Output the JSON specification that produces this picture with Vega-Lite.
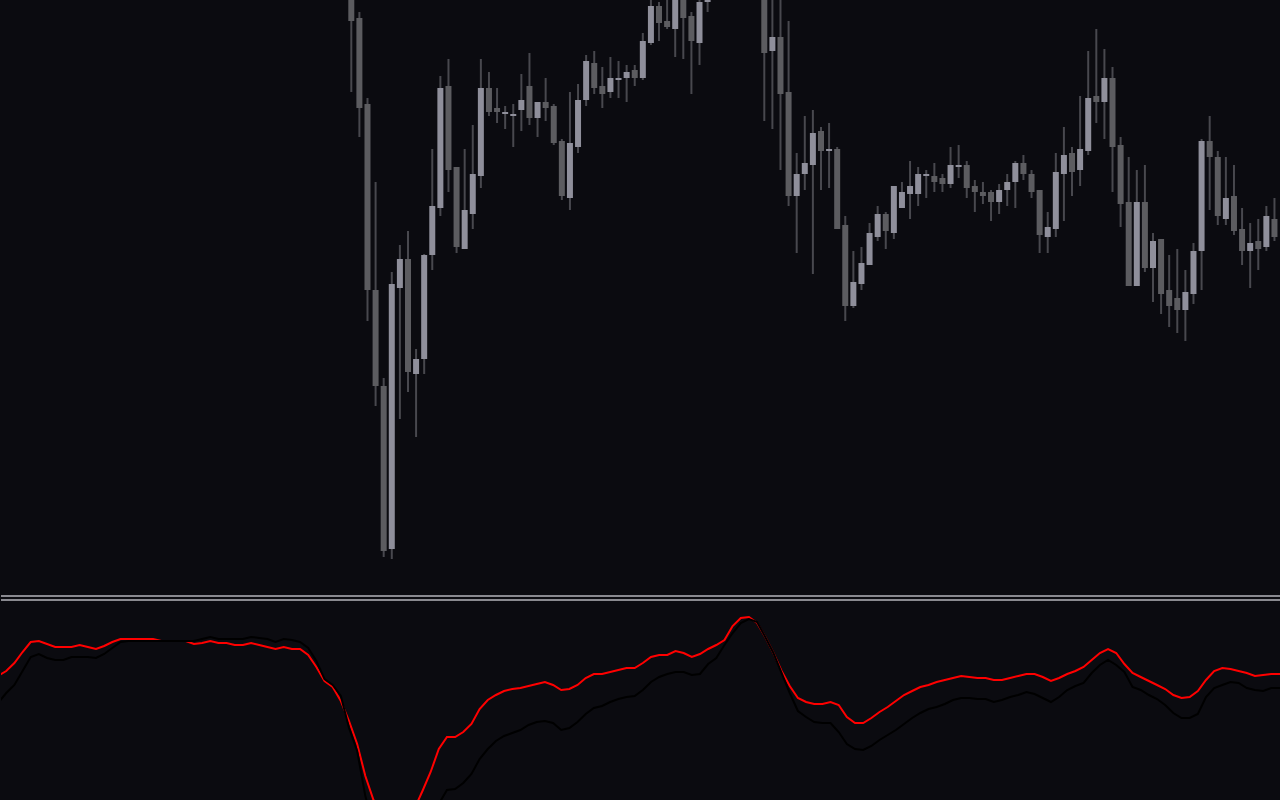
{
  "$schema": "https://vega.github.io/schema/vega-lite/v6.json",
  "background": "#0b0b10",
  "padding": 0,
  "spacing": 0,
  "config": {"view": {"stroke": null}},
  "datasets": {
    "candles": [
      {"i":0,"open":605,"high":615,"low":508,"close":579},
      {"i":1,"open":582,"high":588,"low":463,"close":492},
      {"i":2,"open":496,"high":502,"low":279,"close":310},
      {"i":3,"open":310,"high":418,"low":194,"close":214},
      {"i":4,"open":214,"high":222,"low":43,"close":49},
      {"i":5,"open":51,"high":328,"low":41,"close":316},
      {"i":6,"open":312,"high":355,"low":181,"close":341},
      {"i":7,"open":341,"high":369,"low":208,"close":228},
      {"i":8,"open":226,"high":251,"low":163,"close":241},
      {"i":9,"open":241,"high":346,"low":226,"close":345},
      {"i":10,"open":345,"high":451,"low":330,"close":394},
      {"i":11,"open":392,"high":524,"low":384,"close":512},
      {"i":12,"open":514,"high":541,"low":408,"close":430},
      {"i":13,"open":433,"high":433,"low":347,"close":353},
      {"i":14,"open":351,"high":451,"low":351,"close":390},
      {"i":15,"open":386,"high":475,"low":371,"close":426},
      {"i":16,"open":424,"high":541,"low":412,"close":512},
      {"i":17,"open":512,"high":528,"low":484,"close":488},
      {"i":18,"open":492,"high":512,"low":477,"close":488},
      {"i":19,"open":486,"high":494,"low":471,"close":488},
      {"i":20,"open":484,"high":496,"low":453,"close":486},
      {"i":21,"open":490,"high":526,"low":469,"close":500},
      {"i":22,"open":514,"high":547,"low":475,"close":482},
      {"i":23,"open":482,"high":498,"low":463,"close":498},
      {"i":24,"open":498,"high":522,"low":479,"close":492},
      {"i":25,"open":494,"high":496,"low":455,"close":457},
      {"i":26,"open":459,"high":461,"low":400,"close":404},
      {"i":27,"open":402,"high":508,"low":390,"close":457},
      {"i":28,"open":453,"high":516,"low":447,"close":500},
      {"i":29,"open":500,"high":545,"low":494,"close":539},
      {"i":30,"open":537,"high":549,"low":506,"close":512},
      {"i":31,"open":514,"high":533,"low":492,"close":506},
      {"i":32,"open":508,"high":543,"low":502,"close":522},
      {"i":33,"open":520,"high":539,"low":502,"close":522},
      {"i":34,"open":522,"high":535,"low":498,"close":528},
      {"i":35,"open":530,"high":535,"low":514,"close":522},
      {"i":36,"open":522,"high":567,"low":520,"close":559},
      {"i":37,"open":557,"high":604,"low":555,"close":594},
      {"i":38,"open":594,"high":598,"low":559,"close":577},
      {"i":39,"open":579,"high":606,"low":571,"close":573},
      {"i":40,"open":571,"high":612,"low":543,"close":605},
      {"i":41,"open":604,"high":610,"low":541,"close":582},
      {"i":42,"open":584,"high":588,"low":506,"close":559},
      {"i":43,"open":557,"high":601,"low":535,"close":598},
      {"i":44,"open":598,"high":612,"low":588,"close":606},
      {"i":45,"open":606,"high":624,"low":602,"close":618},
      {"i":46,"open":618,"high":640,"low":612,"close":632},
      {"i":47,"open":632,"high":656,"low":626,"close":648},
      {"i":48,"open":648,"high":668,"low":640,"close":660},
      {"i":49,"open":660,"high":666,"low":642,"close":650},
      {"i":50,"open":650,"high":655,"low":622,"close":630},
      {"i":51,"open":622,"high":628,"low":479,"close":547},
      {"i":52,"open":549,"high":610,"low":471,"close":563},
      {"i":53,"open":563,"high":605,"low":430,"close":506},
      {"i":54,"open":508,"high":579,"low":394,"close":404},
      {"i":55,"open":404,"high":447,"low":347,"close":426},
      {"i":56,"open":426,"high":484,"low":410,"close":437},
      {"i":57,"open":435,"high":490,"low":326,"close":467},
      {"i":58,"open":469,"high":473,"low":410,"close":449},
      {"i":59,"open":449,"high":477,"low":412,"close":451},
      {"i":60,"open":451,"high":453,"low":371,"close":371},
      {"i":61,"open":375,"high":384,"low":279,"close":294},
      {"i":62,"open":294,"high":349,"low":292,"close":318},
      {"i":63,"open":316,"high":353,"low":310,"close":337},
      {"i":64,"open":335,"high":377,"low":335,"close":367},
      {"i":65,"open":363,"high":394,"low":359,"close":386},
      {"i":66,"open":386,"high":388,"low":351,"close":369},
      {"i":67,"open":367,"high":414,"low":361,"close":414},
      {"i":68,"open":392,"high":418,"low":392,"close":408},
      {"i":69,"open":406,"high":439,"low":381,"close":414},
      {"i":70,"open":406,"high":433,"low":394,"close":426},
      {"i":71,"open":424,"high":430,"low":402,"close":426},
      {"i":72,"open":424,"high":437,"low":408,"close":418},
      {"i":73,"open":422,"high":426,"low":408,"close":416},
      {"i":74,"open":416,"high":453,"low":412,"close":435},
      {"i":75,"open":433,"high":455,"low":422,"close":435},
      {"i":76,"open":435,"high":439,"low":402,"close":412},
      {"i":77,"open":414,"high":420,"low":388,"close":408},
      {"i":78,"open":408,"high":418,"low":396,"close":404},
      {"i":79,"open":408,"high":410,"low":379,"close":398},
      {"i":80,"open":398,"high":416,"low":386,"close":410},
      {"i":81,"open":410,"high":426,"low":394,"close":418},
      {"i":82,"open":418,"high":439,"low":392,"close":437},
      {"i":83,"open":437,"high":445,"low":420,"close":426},
      {"i":84,"open":426,"high":430,"low":402,"close":408},
      {"i":85,"open":410,"high":410,"low":347,"close":365},
      {"i":86,"open":363,"high":388,"low":347,"close":373},
      {"i":87,"open":371,"high":447,"low":363,"close":428},
      {"i":88,"open":426,"high":473,"low":379,"close":445},
      {"i":89,"open":447,"high":453,"low":404,"close":428},
      {"i":90,"open":430,"high":504,"low":414,"close":451},
      {"i":91,"open":449,"high":549,"low":445,"close":502},
      {"i":92,"open":504,"high":571,"low":477,"close":498},
      {"i":93,"open":498,"high":551,"low":461,"close":522},
      {"i":94,"open":522,"high":533,"low":408,"close":453},
      {"i":95,"open":455,"high":463,"low":373,"close":396},
      {"i":96,"open":398,"high":443,"low":314,"close":314},
      {"i":97,"open":314,"high":430,"low":314,"close":398},
      {"i":98,"open":398,"high":435,"low":328,"close":332},
      {"i":99,"open":332,"high":367,"low":298,"close":359},
      {"i":100,"open":361,"high":361,"low":286,"close":306},
      {"i":101,"open":310,"high":345,"low":273,"close":294},
      {"i":102,"open":302,"high":351,"low":267,"close":290},
      {"i":103,"open":290,"high":330,"low":259,"close":308},
      {"i":104,"open":306,"high":357,"low":296,"close":349},
      {"i":105,"open":349,"high":461,"low":310,"close":459},
      {"i":106,"open":459,"high":484,"low":390,"close":443},
      {"i":107,"open":443,"high":449,"low":375,"close":384},
      {"i":108,"open":381,"high":443,"low":375,"close":402},
      {"i":109,"open":404,"high":435,"low":365,"close":369},
      {"i":110,"open":371,"high":392,"low":335,"close":349},
      {"i":111,"open":349,"high":377,"low":312,"close":357},
      {"i":112,"open":359,"high":381,"low":330,"close":351},
      {"i":113,"open":353,"high":394,"low":349,"close":384},
      {"i":114,"open":381,"high":402,"low":359,"close":363}
    ],
    "osc": [
      {"i":-43,"red":62.5,"black":49},
      {"i":-42,"red":65,"black":54},
      {"i":-41,"red":69,"black":58},
      {"i":-40,"red":74.5,"black":65},
      {"i":-39,"red":79.5,"black":72},
      {"i":-38,"red":80,"black":73.5},
      {"i":-37,"red":78.5,"black":71.5},
      {"i":-36,"red":77,"black":70.5},
      {"i":-35,"red":77,"black":70.5},
      {"i":-34,"red":77,"black":72},
      {"i":-33,"red":78,"black":72},
      {"i":-32,"red":77,"black":72},
      {"i":-31,"red":76,"black":71.5},
      {"i":-30,"red":77.5,"black":73.5},
      {"i":-29,"red":79.5,"black":76.5},
      {"i":-28,"red":81,"black":79.5},
      {"i":-27,"red":81,"black":80},
      {"i":-26,"red":81,"black":80},
      {"i":-25,"red":81,"black":80},
      {"i":-24,"red":81,"black":80},
      {"i":-23,"red":80,"black":80},
      {"i":-22,"red":80,"black":80},
      {"i":-21,"red":80,"black":80},
      {"i":-20,"red":80,"black":80},
      {"i":-19,"red":78.5,"black":80},
      {"i":-18,"red":79,"black":81},
      {"i":-17,"red":80,"black":82},
      {"i":-16,"red":79,"black":81},
      {"i":-15,"red":79,"black":81},
      {"i":-14,"red":78,"black":81},
      {"i":-13,"red":78,"black":81},
      {"i":-12,"red":79,"black":82},
      {"i":-11,"red":78,"black":81.5},
      {"i":-10,"red":77,"black":81},
      {"i":-9,"red":76,"black":79.5},
      {"i":-8,"red":77,"black":81},
      {"i":-7,"red":76,"black":80.5},
      {"i":-6,"red":76,"black":79.5},
      {"i":-5,"red":73,"black":76.5},
      {"i":-4,"red":67,"black":70},
      {"i":-3,"red":60,"black":61},
      {"i":-2,"red":57,"black":58},
      {"i":-1,"red":50,"black":52.5},
      {"i":0,"red":40,"black":36.5},
      {"i":1,"red":28.5,"black":25},
      {"i":2,"red":12.5,"black":2.5},
      {"i":3,"red":0.5,"black":-12.5},
      {"i":4,"red":-7.5,"black":-20},
      {"i":5,"red":-10,"black":-22.5},
      {"i":6,"red":-11,"black":-22.5},
      {"i":7,"red":-9,"black":-20},
      {"i":8,"red":-4,"black":-15},
      {"i":9,"red":5,"black":-10},
      {"i":10,"red":14.5,"black":-6},
      {"i":11,"red":26,"black":-1.5},
      {"i":12,"red":32,"black":5.5},
      {"i":13,"red":32,"black":6},
      {"i":14,"red":34.5,"black":9},
      {"i":15,"red":38.5,"black":13.5},
      {"i":16,"red":46,"black":21},
      {"i":17,"red":50.5,"black":26},
      {"i":18,"red":53,"black":30},
      {"i":19,"red":55,"black":32.5},
      {"i":20,"red":56,"black":34},
      {"i":21,"red":56.5,"black":35.5},
      {"i":22,"red":57.5,"black":38},
      {"i":23,"red":58.5,"black":39.5},
      {"i":24,"red":59.5,"black":40},
      {"i":25,"red":58,"black":39},
      {"i":26,"red":55.5,"black":35.5},
      {"i":27,"red":56,"black":36.5},
      {"i":28,"red":58,"black":39.5},
      {"i":29,"red":61.5,"black":43.5},
      {"i":30,"red":63.5,"black":46.5},
      {"i":31,"red":63.5,"black":47.5},
      {"i":32,"red":64.5,"black":49.5},
      {"i":33,"red":65.5,"black":51},
      {"i":34,"red":66.5,"black":52},
      {"i":35,"red":66.5,"black":52.5},
      {"i":36,"red":69,"black":55.5},
      {"i":37,"red":72,"black":59.5},
      {"i":38,"red":73,"black":62},
      {"i":39,"red":73,"black":63.5},
      {"i":40,"red":75,"black":64.5},
      {"i":41,"red":74,"black":64.5},
      {"i":42,"red":72,"black":63},
      {"i":43,"red":73.5,"black":63.5},
      {"i":44,"red":76,"black":68.5},
      {"i":45,"red":78,"black":71.5},
      {"i":46,"red":80.5,"black":78},
      {"i":47,"red":87.5,"black":84},
      {"i":48,"red":91.5,"black":89},
      {"i":49,"red":92,"black":91},
      {"i":50,"red":89,"black":89.5},
      {"i":51,"red":82,"black":82},
      {"i":52,"red":74,"black":74},
      {"i":53,"red":65,"black":64},
      {"i":54,"red":57.5,"black":54},
      {"i":55,"red":51.5,"black":45},
      {"i":56,"red":49.5,"black":42},
      {"i":57,"red":48.5,"black":39.5},
      {"i":58,"red":48.5,"black":39},
      {"i":59,"red":49.5,"black":39},
      {"i":60,"red":48,"black":34.5},
      {"i":61,"red":42,"black":28.5},
      {"i":62,"red":39,"black":26},
      {"i":63,"red":39,"black":25.5},
      {"i":64,"red":41.5,"black":27.5},
      {"i":65,"red":44.5,"black":30.5},
      {"i":66,"red":47,"black":33},
      {"i":67,"red":50,"black":35.5},
      {"i":68,"red":53,"black":38.5},
      {"i":69,"red":55,"black":41.5},
      {"i":70,"red":57,"black":44},
      {"i":71,"red":58,"black":46},
      {"i":72,"red":59.5,"black":47},
      {"i":73,"red":60.5,"black":48.5},
      {"i":74,"red":61.5,"black":50.5},
      {"i":75,"red":62.5,"black":51.5},
      {"i":76,"red":62,"black":51.5},
      {"i":77,"red":61.5,"black":51},
      {"i":78,"red":61.5,"black":51},
      {"i":79,"red":60.5,"black":49.5},
      {"i":80,"red":60.5,"black":50.5},
      {"i":81,"red":61.5,"black":52},
      {"i":82,"red":62.5,"black":53},
      {"i":83,"red":63.5,"black":54.5},
      {"i":84,"red":63.5,"black":53.5},
      {"i":85,"red":62,"black":51.5},
      {"i":86,"red":60,"black":49.5},
      {"i":87,"red":61.5,"black":52},
      {"i":88,"red":63.5,"black":55.5},
      {"i":89,"red":65,"black":57.5},
      {"i":90,"red":67,"black":59},
      {"i":91,"red":70.5,"black":64},
      {"i":92,"red":74,"black":68},
      {"i":93,"red":76,"black":70.5},
      {"i":94,"red":74,"black":68},
      {"i":95,"red":68.5,"black":64.5},
      {"i":96,"red":64,"black":57},
      {"i":97,"red":62,"black":55.5},
      {"i":98,"red":60,"black":53},
      {"i":99,"red":58,"black":51},
      {"i":100,"red":56,"black":48},
      {"i":101,"red":53,"black":44},
      {"i":102,"red":51.5,"black":41.5},
      {"i":103,"red":52,"black":41.5},
      {"i":104,"red":55,"black":43.5},
      {"i":105,"red":60.5,"black":52},
      {"i":106,"red":65,"black":56.5},
      {"i":107,"red":66.5,"black":58},
      {"i":108,"red":66,"black":59.5},
      {"i":109,"red":65,"black":59},
      {"i":110,"red":64,"black":56.5},
      {"i":111,"red":62.5,"black":55.5},
      {"i":112,"red":63,"black":55},
      {"i":113,"red":63.5,"black":56.5},
      {"i":114,"red":63.5,"black":56.5},
      {"i":115,"red":63.5,"black":56.5}
    ]
  },
  "vconcat": [
    {
      "width": 1280,
      "height": 594,
      "data": {"name": "candles"},
      "encoding": {
        "x": {"field": "i", "type": "quantitative", "scale": {"domain": [-42.64, 114.19], "nice": false, "zero": false}, "axis": null}
      },
      "layer": [
        {
          "mark": {"type": "rule", "strokeWidth": 2, "color": "#48484e", "clip": true},
          "encoding": {
            "y": {"field": "low", "type": "quantitative", "scale": {"domain": [6, 600], "nice": false, "zero": false}, "axis": null},
            "y2": {"field": "high"}
          }
        },
        {
          "mark": {"type": "bar", "width": 6, "clip": true},
          "encoding": {
            "y": {"field": "open", "type": "quantitative", "scale": {"domain": [6, 600], "nice": false, "zero": false}, "axis": null},
            "y2": {"field": "close"},
            "color": {"condition": {"test": "datum.close > datum.open", "value": "#8f8f9b"}, "value": "#5c5c60"}
          }
        }
      ]
    },
    {
      "width": 1280,
      "height": 206,
      "layer": [
        {
          "data": {"name": "osc"},
          "mark": {"type": "line", "color": "#ff0000", "strokeWidth": 2, "clip": true},
          "encoding": {
            "x": {"field": "i", "type": "quantitative", "scale": {"domain": [-42.64, 114.19], "nice": false, "zero": false}, "axis": null},
            "y": {"field": "red", "type": "quantitative", "scale": {"domain": [0, 103], "nice": false, "zero": false}, "axis": null}
          }
        },
        {
          "data": {"name": "osc"},
          "mark": {"type": "line", "color": "#000000", "strokeWidth": 2, "clip": true},
          "encoding": {
            "x": {"field": "i", "type": "quantitative", "scale": {"domain": [-42.64, 114.19], "nice": false, "zero": false}, "axis": null},
            "y": {"field": "black", "type": "quantitative", "scale": {"domain": [0, 103], "nice": false, "zero": false}, "axis": null}
          }
        },
        {
          "data": {"values": [{"sep": "upper"}, {"sep": "lower"}]},
          "mark": {"type": "rule", "color": "#8a8a90", "strokeWidth": 2},
          "encoding": {
            "y": {"datum": 102.5, "type": "quantitative"}
          }
        },
        {
          "data": {"values": [{"sep": "lower"}]},
          "mark": {"type": "rule", "color": "#8a8a90", "strokeWidth": 2},
          "encoding": {
            "y": {"datum": 100.5, "type": "quantitative"}
          }
        }
      ]
    }
  ]
}
